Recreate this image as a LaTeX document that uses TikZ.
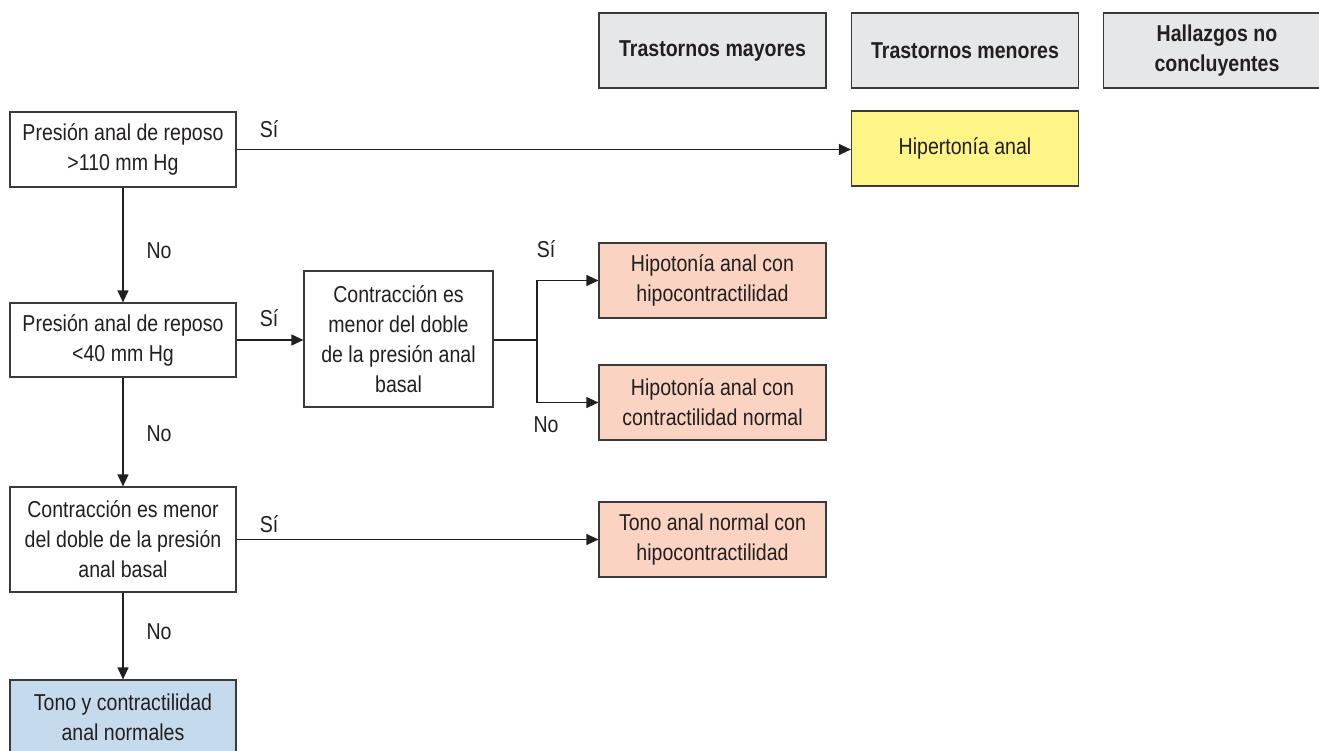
\documentclass[tikz,border=0pt]{standalone}
\usepackage{fontspec}
\setmainfont{Liberation Sans}[FakeStretch=0.85]
\usetikzlibrary{arrows.meta}
\definecolor{txt}{HTML}{231F20}
\definecolor{bord}{HTML}{3A3A3A}
\definecolor{hdrfill}{HTML}{E6E7E8}
\definecolor{yel}{HTML}{FFF587}
\definecolor{pink}{HTML}{FAD3C3}
\definecolor{blu}{HTML}{C6DAEE}
\tikzset{
  box/.style={draw=bord, line width=1.2pt, align=center, text=txt, inner sep=2pt,
    minimum width=226pt, minimum height=75pt, font=\fontsize{23}{30}\selectfont},
  hdr/.style={box, fill=hdrfill, minimum width=227pt, font=\fontsize{23}{30}\selectfont\bfseries},
  res/.style={box, minimum width=227pt},
  lbl/.style={text=txt, inner sep=0pt, font=\fontsize{23}{30}\selectfont},
  conn/.style={draw=txt, line width=1.2pt},
  arr/.style={conn, -{Triangle[length=12pt,width=11pt]}}
}
\begin{document}
\begin{tikzpicture}[x=1pt,y=-1pt]
\useasboundingbox (0,0) rectangle (1319,751);
% header
\node[hdr] (mayores) at (712.5,50.5) {\raisebox{-2pt}{Trastornos mayores}};
\node[hdr] (menores) at (965,50.5) {\raisebox{-2pt}{Trastornos menores}};
\node[hdr] (hallazgos) at (1217,50.5) {Hallazgos no\\concluyentes};
% left column
\node[box] (p1) at (123,149.5) {Presión anal de reposo\\>110 mm Hg};
\node[box, minimum height=74pt] (p2) at (123,340) {Presión anal de reposo\\<40 mm Hg};
\node[box, minimum height=105pt] (c2) at (123,539.5) {Contracción es menor\\del doble de la presión\\anal basal};
\node[box, fill=blu] (tc) at (123,717.5) {Tono y contractilidad\\anal normales};
% middle
\node[box, minimum width=189pt, minimum height=136pt] (c1) at (398.5,339) {Contracción es\\menor del doble\\de la presión anal\\basal};
% results
\node[res, fill=yel] (hip) at (965,148.5) {Hipertonía anal};
\node[res, fill=pink] (hc) at (712.5,280.5) {Hipotonía anal con\\hipocontractilidad};
\node[res, fill=pink] (hn) at (712.5,402.5) {Hipotonía anal con\\contractilidad normal};
\node[res, fill=pink] (tn) at (712.5,539.5) {Tono anal normal con\\hipocontractilidad};
% connectors
\coordinate (br) at (537,340);
\draw[arr] (p1.east) -- (p1.east -| hip.west);
\draw[arr] (p1.south) -- (p2.north);
\draw[arr] (p2.east) -- (p2.east -| c1.west);
\draw[conn] (c1.east |- br) -- (br);
\draw[arr] (br) |- (hc.west);
\draw[arr] (br) |- (hn.west);
\draw[arr] (p2.south) -- (c2.north);
\draw[arr] (c2.east) -- (tn.west);
\draw[arr] (c2.south) -- (tc.north);
% labels
\node[lbl] (s1) at (269,129) {Sí};
\node[lbl] (s2) at (269,318) {Sí};
\node[lbl] (s3) at (269,524) {Sí};
\node[lbl] (s4) at (546,249) {Sí};
\node[lbl] (n1) at (159,251) {No};
\node[lbl] (n2) at (159,434) {No};
\node[lbl] (n3) at (159,632) {No};
\node[lbl] (n4) at (546,425) {No};
\end{tikzpicture}
\end{document}
